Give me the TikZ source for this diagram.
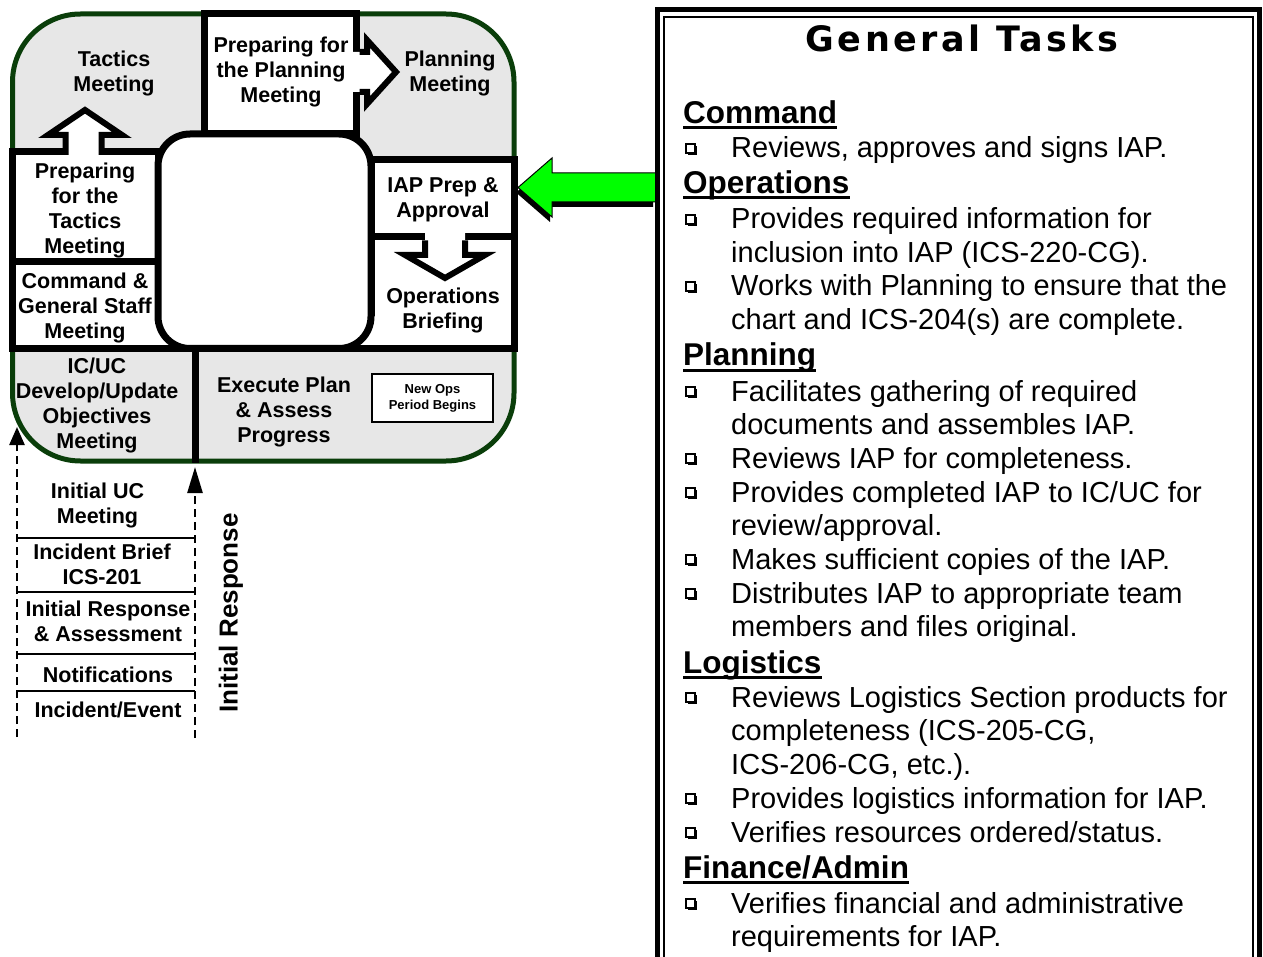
\documentclass[tikz,border=0pt]{standalone}
\usepackage{fontspec}
\setmainfont{Liberation Sans}
\newfontfamily\titlefont[LetterSpace=10]{DejaVu Sans}
\usetikzlibrary{arrows.meta, calc, positioning}
\definecolor{framegreen}{RGB}{10,62,10}
\definecolor{wheelgray}{RGB}{231,231,231}
\definecolor{pointergreen}{RGB}{0,255,0}
\tikzset{box/.style={draw=black, fill=white, line width=7pt}}
\tikzset{fatarrow/.style={draw=black, line width=6pt, line join=miter}}
\tikzset{steptext/.style={font=\bfseries\fontsize{21.5}{25}\selectfont, align=center, inner sep=0pt}}
\tikzset{dashline/.style={line width=2.5pt, dash pattern=on 8pt off 5pt}}
\tikzset{rung/.style={line width=2pt}}
\tikzset{taskhead/.style={font=\bfseries\fontsize{31.5}{36}\selectfont, anchor=base west, inner sep=0pt}}
\tikzset{taskitem/.style={font=\fontsize{29}{33.7}\selectfont, anchor=base west, inner sep=0pt, align=left}}

\begin{document}
\begin{tikzpicture}[x=1pt, y=-1pt]
\useasboundingbox (0,0) rectangle (1263,957);

% planning wheel
\draw[line width=5pt, draw=framegreen, fill=wheelgray, rounded corners=68pt] (12.5,14) rectangle (514,461);
\draw[box] (204,13.5) rectangle (356,134);
\draw[box] (12.5,151.5) rectangle (158,261.5);
\draw[box] (12.5,261.5) rectangle (158,348.5);
\draw[box] (371,160) rectangle (514,237);
\draw[box] (371,237) rectangle (514,348.5);
\fill[white] (154,316.5) rectangle (195,345);
\fill[white] (336,316.5) rectangle (375,345);
\draw[box, rounded corners=32pt] (158,134) rectangle (371,348.5);
\draw[line width=7pt] (12.5,348.5) -- (514,348.5);
\draw[line width=7pt] (195.5,348.5) -- (195.5,463);

% block arrows
\fill[white] (65.5,156) -- (65.5,135) -- (48,135) -- (85,110) -- (122,135) -- (101.5,135) -- (101.5,156) -- cycle;
\draw[fatarrow] (65.5,155) -- (65.5,135) -- (48,135) -- (85,110) -- (122,135) -- (101.5,135) -- (101.5,155);
\fill[white] (352,52) -- (367,52) -- (367,40) -- (396,72) -- (367,104) -- (367,92) -- (352,92) -- cycle;
\draw[fatarrow] (359.5,52) -- (367,52) -- (367,40) -- (396,72) -- (367,104) -- (367,92) -- (359.5,92);
\fill[white] (425,232) -- (425,255) -- (405,255) -- (445,278) -- (485,255) -- (465,255) -- (465,232) -- cycle;
\draw[fatarrow] (425,240.5) -- (425,255) -- (405,255) -- (445,278) -- (485,255) -- (465,255) -- (465,240.5);

\node[steptext] (tactics) at (114,73) {Tactics\\Meeting};
\node[steptext] (prepplan) at (281,72) {Preparing for\\the Planning\\Meeting};
\node[steptext] (planning) at (450,73) {Planning\\Meeting};
\node[steptext] (preptac) at (85,210) {Preparing\\for the\\Tactics\\Meeting};
\node[steptext] (cgs) at (85,308) {Command \&\\General Staff\\Meeting};
\node[steptext] (iap) at (443,200) {IAP Prep \&\\Approval};
\node[steptext] (opsbrief) at (443,310) {Operations\\Briefing};
\node[steptext] (icuc) at (97,405) {IC/UC\\Develop/Update\\Objectives\\Meeting};
\node[steptext] (execute) at (284,412) {Execute Plan\\\& Assess\\Progress};
\node[draw, line width=2pt, fill=white, minimum width=121pt, minimum height=48pt, inner sep=0pt,
      font=\bfseries\fontsize{13}{16}\selectfont, align=center] (newops) at (432.5,398) {New Ops\\Period Begins};

% initial response
\coordinate (icucfoot) at (17,737);
\coordinate (icucin) at (17,427);
\coordinate (execfoot) at (195,738);
\coordinate (execin) at (195,467);
\draw[dashline, -{Triangle[length=18pt, width=15pt]}] (icucfoot) -- (icucin);
\draw[dashline, -{Triangle[length=26pt, width=15pt]}] (execfoot) -- (execin);
\foreach \y in {538, 592, 654, 691}{
    \draw[rung] (17,\y) -- (195,\y);
}
\node[steptext] (iucm) at (97.5,505) {Initial UC\\Meeting};
\node[steptext] (ibrief) at (102,564) {Incident Brief\\ICS-201};
\node[steptext] (iassess) at (108,621) {Initial Response\\\& Assessment};
\node[steptext] (notif) at (108,675) {Notifications};
\node[steptext] (ievent) at (108,710) {Incident/Event};
\node[font=\bfseries\fontsize{26}{30}\selectfont, rotate=90, inner sep=0pt] (initresp) at (231,613) {Initial Response};

% pointer into IAP prep
\coordinate (gtail) at (657,187.5);
\coordinate (gtip) at (518,187.5);
\fill[black] ($(gtip)+(-2,5)$) -- ++(34,-29.5) -- ++(0,15) -- ++(103,0) -- ++(0,29) -- ++(-103,0) -- ++(0,15) -- cycle;
\filldraw[fill=pointergreen, draw=black, line width=1pt] (gtip) -- ++(34,-29.5) -- ++(0,15) -- ++(105,0) -- ++(0,29) -- ++(-105,0) -- ++(0,15) -- cycle;

% general tasks panel
\draw[line width=5pt] (657.5,965) -- (657.5,10) -- (1259,10) -- (1259,965);
\draw[line width=2pt] (664,965) -- (664,17) -- (1252.5,17) -- (1252.5,965);
\node[font=\titlefont\bfseries\fontsize{35}{40}\selectfont, anchor=base, inner sep=0pt] (gtasks) at (962,52) {General Tasks};

\foreach \n/\y/\t in {hcmd/124/Command, hops/194/Operations, hpln/366/Planning, hlog/673/Logistics, hfin/878/{Finance/Admin}}{
    \node[taskhead] (\n) at (683,\y) {\t};
    \draw[line width=3pt] ([yshift=-4pt]\n.base west) -- ([yshift=-4pt]\n.base east);
}
\foreach \y in {158, 229, 296, 401, 468, 502, 569, 603, 707, 808, 842, 913}{
    \fill[black] (688,\y-12) rectangle (697,\y-3);
    \draw[fill=white, line width=1.2pt] (686,\y-14) rectangle (695,\y-5);
}
% multi-line items sit on the baseline of their last line
\node[taskitem] (i1) at (731,158) {Reviews, approves and signs IAP.};
\node[taskitem] (i2) at (731,262.7) {Provides required information for\\inclusion into IAP (ICS-220-CG).};
\node[taskitem] (i3) at (731,329.7) {Works with Planning to ensure that the\\chart and ICS-204(s) are complete.};
\node[taskitem] (i4) at (731,434.7) {Facilitates gathering of required\\documents and assembles IAP.};
\node[taskitem] (i5) at (731,468) {Reviews IAP for completeness.};
\node[taskitem] (i6) at (731,535.7) {Provides completed IAP to IC/UC for\\review/approval.};
\node[taskitem] (i7) at (731,569) {Makes sufficient copies of the IAP.};
\node[taskitem] (i8) at (731,636.7) {Distributes IAP to appropriate team\\members and files original.};
\node[taskitem] (i9) at (731,774.4) {Reviews Logistics Section products for\\completeness (ICS-205-CG,\\ICS-206-CG, etc.).};
\node[taskitem] (i10) at (731,808) {Provides logistics information for IAP.};
\node[taskitem] (i11) at (731,842) {Verifies resources ordered/status.};
\node[taskitem] (i12) at (731,946.7) {Verifies financial and administrative\\requirements for IAP.};
\end{tikzpicture}
\end{document}
